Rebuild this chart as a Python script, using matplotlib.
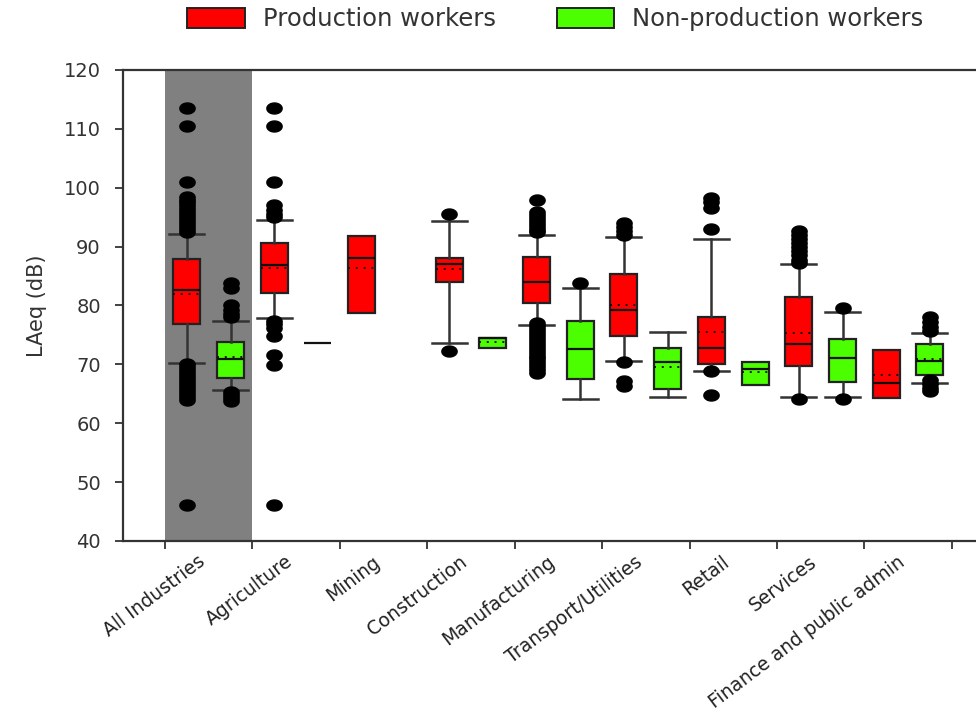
import numpy as np
import matplotlib
matplotlib.use("Agg")
import matplotlib.pyplot as plt
from matplotlib.path import Path
from matplotlib.patches import Patch

plt.rcParams["font.family"] = ["DejaVu Sans"]

categories = ["All Industries", "Agriculture", "Mining", "Construction",
              "Manufacturing", "Transport/Utilities", "Retail", "Services",
              "Finance and public admin"]

# Production workers: box statistics (dB)
prod_q1 = [76.9, 82.2, 78.7, 84.0, 80.5, 74.9, 70.0, 69.8, 64.3]
prod_med = [82.6, 86.8, 88.1, 87.0, 84.0, 79.2, 72.7, 73.5, 66.8]
prod_q3 = [87.9, 90.6, 91.8, 88.1, 88.3, 85.4, 78.0, 81.4, 72.4]
prod_mean = [81.9, 86.3, 86.3, 86.2, 84.0, 80.1, 75.5, 75.3, 68.2]
prod_lo = [70.3, 77.9, 78.7, 73.7, 76.7, 70.5, 68.9, 64.5, 64.3]
prod_hi = [92.1, 94.5, 91.8, 94.4, 92.0, 91.6, 91.3, 87.0, 72.4]
prod_out = [
    [113.5, 110.5, 100.9, 98.5, 98.0, 97.5, 97.0, 96.5, 96.0, 95.5, 95.0,
     94.5, 94.0, 93.5, 93.0, 92.5, 70.0, 69.5, 69.0, 68.5, 68.0, 67.5, 67.0,
     66.5, 66.0, 65.5, 65.0, 64.5, 64.0, 46.1],
    [113.5, 110.5, 100.9, 97.0, 96.3, 95.6, 95.0, 77.4, 76.8, 76.2, 74.8,
     71.6, 69.9, 46.1],
    [],
    [95.5, 72.3],
    [97.9, 95.9, 95.4, 94.9, 94.4, 93.9, 93.4, 92.9, 92.4, 77.0, 76.5, 76.0,
     75.5, 75.0, 74.5, 74.0, 73.5, 73.0, 72.5, 72.0, 71.5, 71.0, 70.5, 70.0,
     69.5, 69.0, 68.5],
    [94.0, 93.4, 92.6, 92.0, 70.4, 67.2, 66.4],
    [98.3, 97.5, 96.6, 93.0, 68.8, 64.8],
    [92.7, 92.0, 91.3, 90.6, 89.9, 89.2, 88.5, 87.8, 87.2, 64.2],
    [],
]

# Non-production workers (no data for Mining)
nonp_q1 = [67.7, 73.7, np.nan, 72.7, 67.5, 65.8, 66.45, 67.05, 68.2]
nonp_med = [70.9, 73.7, np.nan, 74.4, 72.6, 70.35, 69.15, 71.0, 70.6]
nonp_q3 = [73.85, 73.7, np.nan, 74.4, 77.3, 72.7, 70.45, 74.35, 73.45]
nonp_mean = [71.2, 73.7, np.nan, 73.85, 72.6, 69.55, 68.7, 71.1, 70.85]
nonp_lo = [65.6, 73.7, np.nan, 72.7, 64.1, 64.5, 66.45, 64.5, 66.8]
nonp_hi = [77.4, 73.7, np.nan, 74.4, 82.9, 75.55, 70.45, 78.95, 75.35]
nonp_out = [
    [83.9, 82.9, 80.0, 79.3, 78.6, 78.0, 65.3, 64.8, 64.3, 63.8],
    [], [], [], [83.8], [], [],
    [79.5, 64.1],
    [78.0, 77.2, 76.4, 75.6, 67.3, 66.6, 65.9, 65.4],
]

series_labels = ["Production workers", "Non-production workers"]
series_colors = ["#ff0000", "#4cff00"]

# Elliptical outlier marker
t = np.linspace(0, 2 * np.pi, 40)
ellipse = Path(np.column_stack([0.5 * np.cos(t), 0.36 * np.sin(t)]), closed=True)

fig = plt.figure(figsize=(9.76, 7.15), dpi=100)
ax = fig.add_axes([0.126, 0.2434, 0.894, 0.6587])

ax.axvspan(-0.5, 0.5, color="#808080", zorder=0, lw=0)


def make_stats(q1, med, q3, mean, lo, hi, out):
    stats, pos_idx = [], []
    for i in range(len(q1)):
        if np.isnan(q1[i]):
            continue
        stats.append(dict(q1=q1[i], med=med[i], q3=q3[i], mean=mean[i],
                          whislo=lo[i], whishi=hi[i], fliers=out[i]))
        pos_idx.append(i)
    return stats, pos_idx


groups = [
    make_stats(prod_q1, prod_med, prod_q3, prod_mean, prod_lo, prod_hi, prod_out),
    make_stats(nonp_q1, nonp_med, nonp_q3, nonp_mean, nonp_lo, nonp_hi, nonp_out),
]
offsets = [-0.25, 0.25]

for (stats, idx), off, col in zip(groups, offsets, series_colors):
    res = ax.bxp(
        stats, positions=[i + off for i in idx], widths=0.31, capwidths=0.4,
        patch_artist=True, showmeans=True, meanline=True, showfliers=True,
        boxprops=dict(facecolor=col, edgecolor="#222222", linewidth=1.6),
        medianprops=dict(color="#111111", linewidth=1.6),
        meanprops=dict(color="#111111", linestyle=(0, (1, 3)), linewidth=1.4),
        whiskerprops=dict(color="#333333", linewidth=1.8),
        capprops=dict(color="#333333", linewidth=1.8),
        flierprops=dict(marker=ellipse, markersize=11, markerfacecolor="black",
                        markeredgecolor="black", linestyle="none"),
    )
    for k, s in enumerate(stats):
        if s["whislo"] == s["q1"]:
            res["caps"][2 * k].set_visible(False)
        if s["whishi"] == s["q3"]:
            res["caps"][2 * k + 1].set_visible(False)
    for b, s in zip(res["boxes"], stats):
        if s["q1"] == s["q3"]:
            b.set_edgecolor("#555555")
            b.set_linewidth(1.4)

ax.set_xlim(-0.98, 9.0)
ax.set_ylim(40, 120)
ax.set_yticks(np.arange(40, 121, 10))

ax.set_xticks(np.arange(-0.5, 9.0, 1.0))
ax.set_xticklabels([])
ax.set_xticks(np.arange(len(categories)), minor=True)
ax.set_xticklabels(categories, minor=True, rotation=37, ha="right",
                   fontsize=13.5, color="#222222")
ax.tick_params(axis="x", which="minor", length=0, pad=8)
ax.tick_params(axis="x", which="major", length=6, width=1.3, color="#333333",
               direction="out")
ax.tick_params(axis="y", length=6, width=1.3, color="#333333", pad=10,
               labelsize=14, labelcolor="#333333")

for side in ["left", "bottom", "top"]:
    ax.spines[side].set_color("#333333")
    ax.spines[side].set_linewidth(1.6)
ax.spines["right"].set_visible(False)

ax.set_ylabel("LAeq (dB)", fontsize=15, color="#333333", labelpad=12)

handles = [Patch(facecolor=c, edgecolor="#222222", linewidth=1.4)
           for c in series_colors]
fig.legend(handles, series_labels, loc="center", ncol=2,
           bbox_to_anchor=(0.569, 0.973), frameon=False, fontsize=17.5,
           handlelength=2.35, handleheight=0.9, handletextpad=0.75,
           columnspacing=2.5, labelcolor="#333333")

fig.savefig("out.png", dpi=100)
